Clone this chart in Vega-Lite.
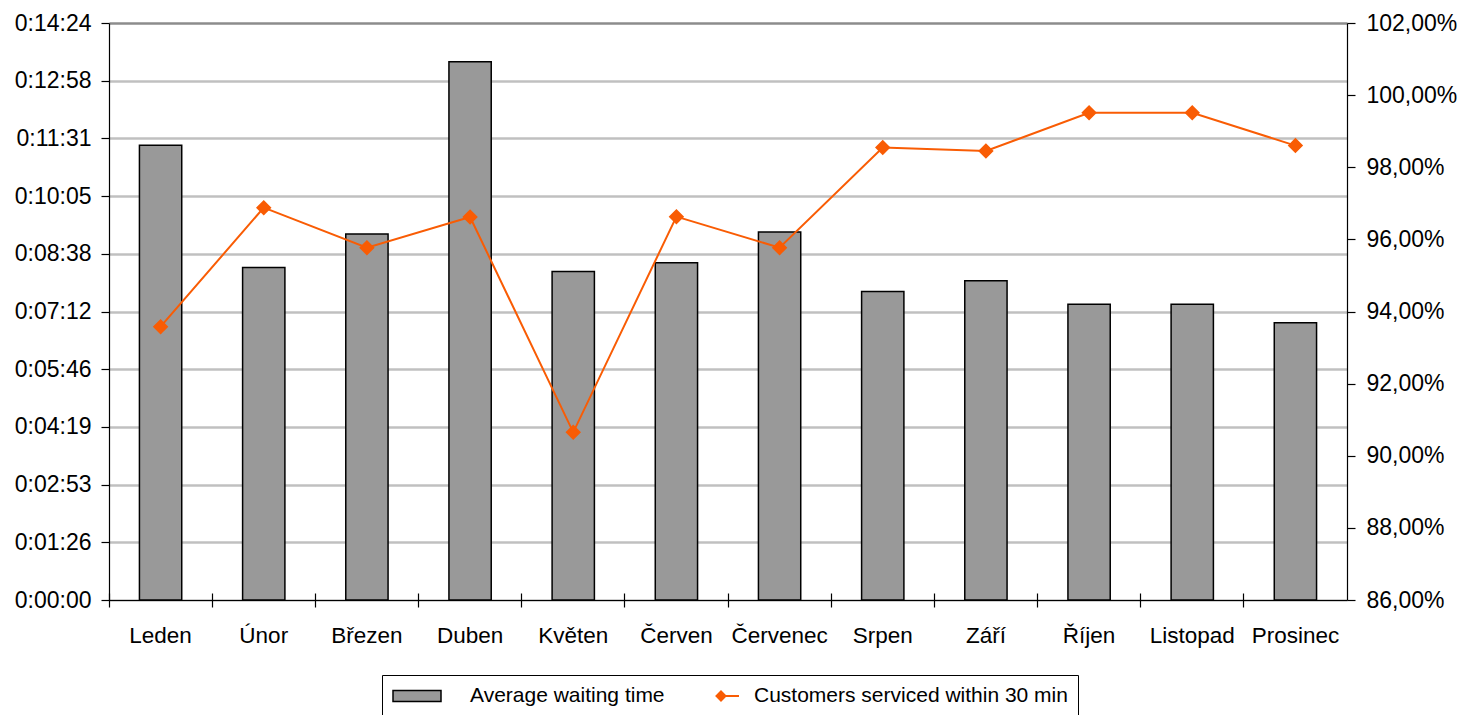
{
  "$schema": "https://vega.github.io/schema/vega-lite/v6.json",
  "width": 1238,
  "height": 577,
  "autosize": {"type": "none"},
  "padding": {"left": 109, "top": 23, "right": 112, "bottom": 115},
  "background": "white",
  "config": {
    "font": "Liberation Sans",
    "view": {"stroke": null},
    "axis": {
      "labelFont": "Liberation Sans",
      "labelFontSize": 23,
      "labelColor": "black",
      "domainColor": "black",
      "tickColor": "black",
      "domainWidth": 1.2,
      "tickWidth": 1.2
    },
    "legend": {
      "labelFont": "Liberation Sans",
      "labelFontSize": 21,
      "labelColor": "black"
    }
  },
  "data": {
    "values": [
      {"month": "Leden", "waiting_s": 681, "pct": 0.9358},
      {"month": "Únor", "waiting_s": 498, "pct": 0.9688},
      {"month": "Březen", "waiting_s": 548, "pct": 0.9577},
      {"month": "Duben", "waiting_s": 806, "pct": 0.9662},
      {"month": "Květen", "waiting_s": 492, "pct": 0.9065},
      {"month": "Červen", "waiting_s": 505, "pct": 0.9663},
      {"month": "Červenec", "waiting_s": 551, "pct": 0.9577},
      {"month": "Srpen", "waiting_s": 462, "pct": 0.9855},
      {"month": "Září", "waiting_s": 478, "pct": 0.9845},
      {"month": "Říjen", "waiting_s": 443, "pct": 0.9951},
      {"month": "Listopad", "waiting_s": 443, "pct": 0.9951},
      {"month": "Prosinec", "waiting_s": 415, "pct": 0.986}
    ]
  },
  "layer": [
    {
      "mark": {"type": "bar", "width": {"band": 0.41}, "stroke": "black", "strokeWidth": 1.5},
      "encoding": {
        "x": {
          "field": "month", "type": "nominal", "sort": null,
          "scale": {"paddingInner": 0, "paddingOuter": 0},
          "axis": {"title": null, "orient": "bottom", "labelAngle": 0, "labelFontSize": 22.5, "ticks": false, "tickSize": 0, "labelPadding": 24, "domain": true}
        },
        "y": {
          "field": "waiting_s", "type": "quantitative",
          "scale": {"domain": [0, 864], "nice": false, "zero": true},
          "axis": {
            "title": null, "orient": "left",
            "values": [0, 86.4, 172.8, 259.2, 345.6, 432, 518.4, 604.8, 691.2, 777.6, 864],
            "labelExpr": "utcFormat(round(datum.value) * 1000, '%-H:%M:%S')",
            "grid": true,
            "gridColor": {"condition": {"test": "datum.value >= 863", "value": "#8c8c8c"}, "value": "#c0c0c0"},
            "gridWidth": 2.5,
            "tickSize": 8,
            "labelPadding": 10
          }
        },
        "fill": {
          "datum": "Average waiting time", "type": "nominal",
          "scale": {"domain": ["Average waiting time"], "range": ["#999999"]},
          "legend": {
            "title": null,
            "orient": "none",
            "legendX": 273,
            "legendY": 652,
            "direction": "horizontal",
            "padding": 10,
            "symbolType": "M-1,-0.55L3.8,-0.55L3.8,0.55L-1,0.55Z",
            "symbolSize": 400,
            "symbolStrokeColor": "black",
            "symbolStrokeWidth": 1.5,
            "labelOffset": 56,
            "labelLimit": 0,
            "labelFontSize": 21
          }
        }
      }
    },
    {
      "mark": {"type": "line", "strokeWidth": 2, "point": {"shape": "diamond", "size": 160, "filled": true, "fill": "#f95c04"}},
      "encoding": {
        "x": {
          "field": "month", "type": "nominal", "sort": null,
          "axis": {"title": null, "orient": "bottom", "labels": false, "bandPosition": 0, "tickSize": 14, "offset": -7, "domain": false, "grid": false}
        },
        "y": {
          "field": "pct", "type": "quantitative",
          "scale": {"domain": [0.86, 1.02], "nice": false, "zero": false},
          "axis": {
            "title": null, "orient": "right",
            "values": [0.86, 0.88, 0.9, 0.92, 0.94, 0.96, 0.98, 1.0, 1.02],
            "labelExpr": "replace(format(datum.value, '.2%'), '.', ',')",
            "grid": false,
            "tickSize": 8,
            "labelPadding": 11
          }
        },
        "stroke": {
          "datum": "Customers serviced within 30 min", "type": "nominal",
          "scale": {"domain": ["Customers serviced within 30 min"], "range": ["#f95c04"]},
          "legend": {
            "title": null,
            "orient": "none",
            "legendX": 273,
            "legendY": 652,
            "direction": "horizontal",
            "padding": 10,
            "strokeColor": "black",
            "symbolType": "M31.8,-0.45L32.25,0L31.8,0.45L31.35,0ZM31.8,0L33.6,0",
            "symbolSize": 400,
            "symbolFillColor": "#f95c04",
            "symbolStrokeColor": "#f95c04",
            "symbolStrokeWidth": 2,
            "labelOffset": 340,
            "labelLimit": 0,
            "labelFontSize": 21
          }
        }
      }
    }
  ],
  "resolve": {"scale": {"y": "independent"}, "axis": {"x": "independent"}}
}
